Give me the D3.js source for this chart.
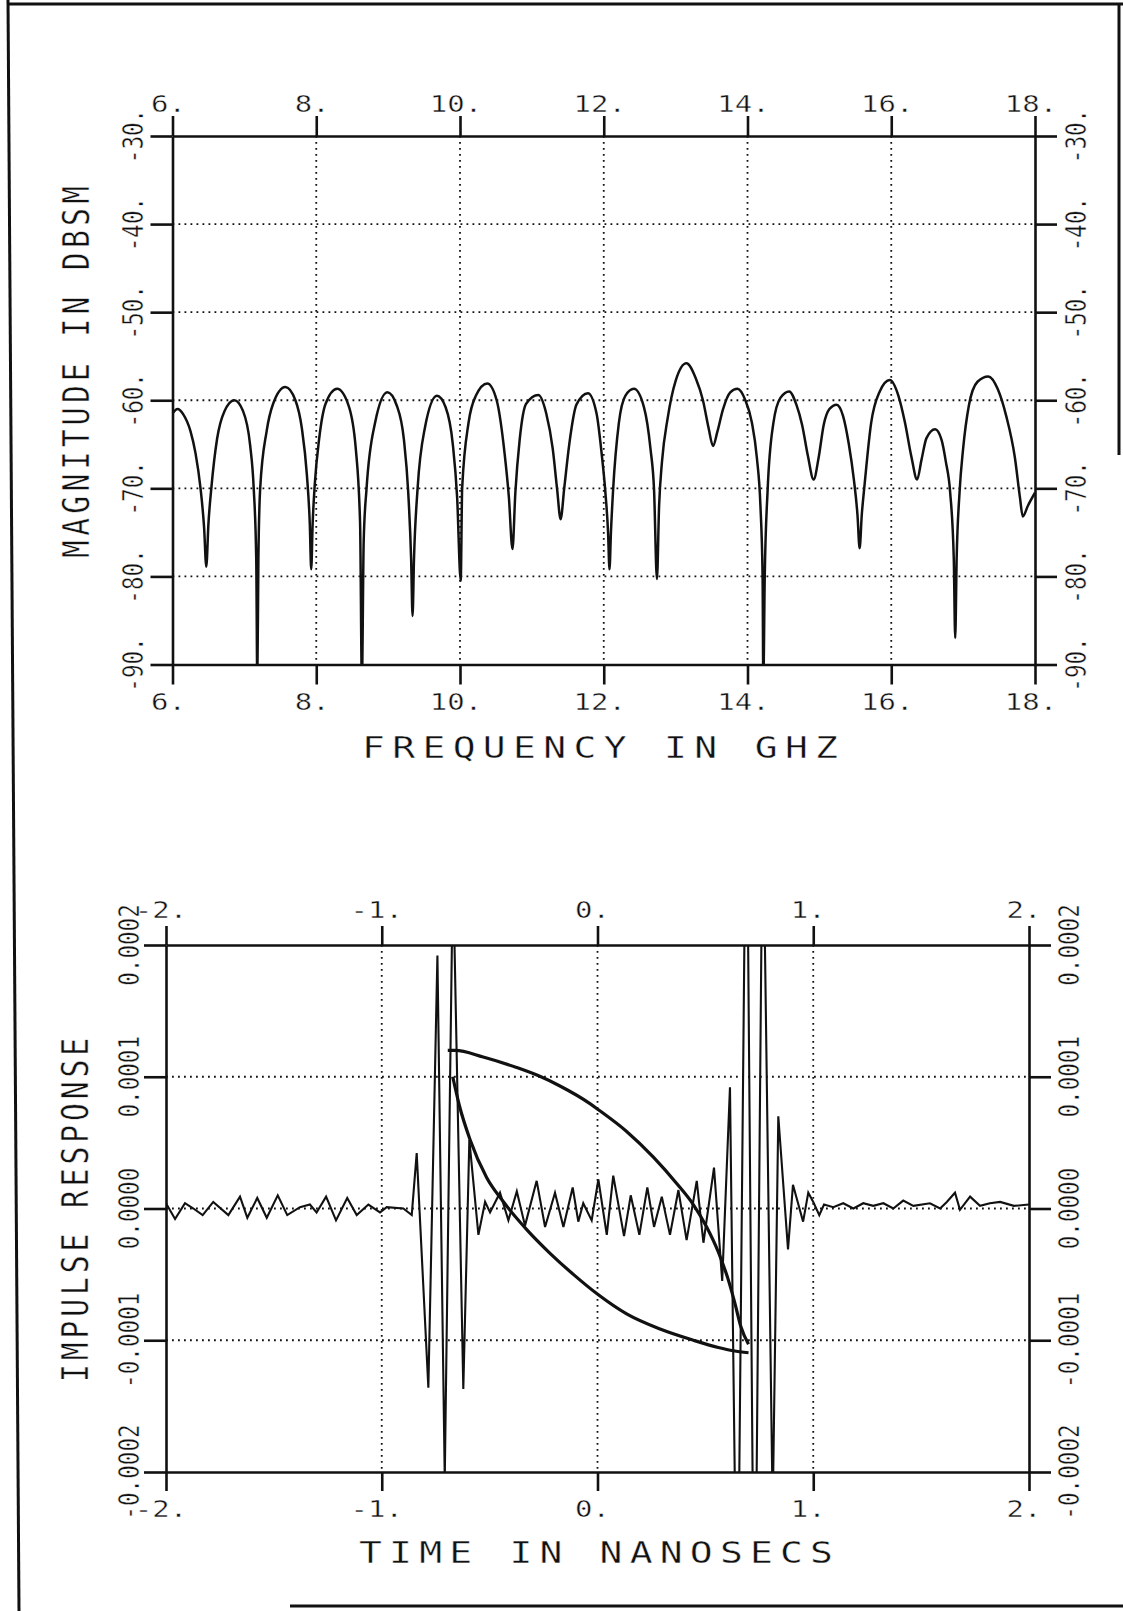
<!DOCTYPE html>
<html>
<head>
<meta charset="utf-8">
<script src="https://cdn.jsdelivr.net/npm/d3@7"></script>
<style>
  html, body { margin: 0; padding: 0; background: #fff; }
  svg { display: block; }
</style>
</head>
<body>
<div id="chart"></div>
<script>
// ---------------- DATA ----------------
// Top chart: magnitude (dBsm) vs frequency (GHz)
const freqGHz = [
  6.00, 6.07, 6.15, 6.25, 6.32, 6.39, 6.44, 6.47,
  6.50, 6.54, 6.62, 6.72, 6.86, 6.98, 7.08, 7.13, 7.165, 7.18,
  7.195, 7.22, 7.31, 7.40, 7.57, 7.71, 7.80, 7.87, 7.91, 7.93,
  7.95, 7.98, 8.04, 8.13, 8.29, 8.45, 8.55, 8.61, 8.635,
  8.66, 8.70, 8.82, 8.99, 9.12, 9.22, 9.28, 9.32, 9.34,
  9.36, 9.41, 9.51, 9.68, 9.80, 9.90, 9.96, 10.01,
  10.03, 10.12, 10.22, 10.38, 10.51, 10.62, 10.68, 10.73,
  10.77, 10.83, 10.92, 11.09, 11.20, 11.29, 11.35, 11.40,
  11.45, 11.52, 11.62, 11.78, 11.90, 11.97, 12.02, 12.06, 12.08,
  12.10, 12.13, 12.21, 12.30, 12.42, 12.56, 12.65, 12.70, 12.74,
  12.77, 12.81, 12.89, 13.00, 13.15, 13.28, 13.38, 13.46, 13.52,
  13.58, 13.66, 13.76, 13.86, 13.97, 14.06, 14.13, 14.18, 14.21, 14.22,
  14.24, 14.28, 14.36, 14.46, 14.58, 14.68, 14.76, 14.84, 14.92,
  14.99, 15.06, 15.14, 15.24, 15.33, 15.41, 15.48, 15.53, 15.56,
  15.59, 15.63, 15.72, 15.84, 15.98, 16.10, 16.19, 16.28, 16.36,
  16.42, 16.49, 16.61, 16.70, 16.76, 16.82, 16.87, 16.89,
  16.91, 16.95, 17.00, 17.08, 17.20, 17.35, 17.48, 17.60, 17.72, 17.79, 17.83, 17.90, 18.00
];
const magnitudeDbsm = [
  -61.5, -61.0, -61.6, -63.5, -66.0, -70.0, -74.5, -78.9,
  -74.0, -70.0, -64.4, -61.3, -60.0, -61.2, -65.1, -70.0, -78.0, -92.0,
  -78.0, -70.0, -63.5, -60.4, -58.5, -60.0, -63.2, -68.5, -74.0, -79.2,
  -74.0, -69.5, -64.4, -60.4, -58.7, -60.6, -65.5, -74.0, -92.0,
  -76.0, -70.0, -62.5, -59.1, -60.6, -64.5, -70.5, -78.0, -84.5,
  -78.0, -70.0, -63.2, -59.5, -60.8, -65.0, -71.0, -80.5,
  -70.0, -62.5, -59.5, -58.1, -60.0, -66.0, -71.0, -76.9,
  -70.5, -64.5, -60.4, -59.4, -61.5, -65.5, -70.0, -73.5,
  -70.0, -65.0, -60.5, -59.2, -61.5, -66.0, -70.2, -75.0, -79.2,
  -75.0, -70.2, -62.6, -59.5, -58.7, -60.8, -65.5, -70.2, -80.3,
  -72.0, -67.0, -62.0, -57.8, -55.8, -57.5, -60.0, -63.2, -65.2,
  -63.6, -61.0, -59.1, -58.7, -60.0, -62.5, -66.5, -72.0, -80.0, -92.0,
  -80.0, -70.2, -62.6, -59.7, -59.0, -60.5, -62.8, -66.3, -69.0,
  -66.5, -62.8, -61.0, -60.5, -61.8, -65.0, -69.0, -73.0, -76.8,
  -73.0, -69.5, -62.6, -59.0, -57.7, -59.5, -62.5, -66.4, -69.0,
  -66.8, -64.3, -63.3, -64.5, -67.0, -70.5, -78.0, -87.0,
  -78.0, -70.5, -65.5, -60.6, -57.9, -57.3, -58.7, -61.8, -66.5, -71.0, -73.2, -72.0, -70.5
];
const freqTicks = [6, 8, 10, 12, 14, 16, 18];
const freqTickLabels = ["6.", "8.", "10.", "12.", "14.", "16.", "18."];
const dbTicks = [-30, -40, -50, -60, -70, -80, -90];
const dbTickLabels = ["-30.", "-40.", "-50.", "-60.", "-70.", "-80.", "-90."];

// Bottom chart: impulse response vs time (ns); response values in units of 1e-4
const RESP_UNIT = 1e-4;
const traceTimeNs = [
  -2.000, -1.958, -1.912, -1.873, -1.830, -1.781, -1.711, -1.657, -1.623, -1.577,
  -1.533, -1.482, -1.438, -1.379, -1.333, -1.302, -1.258, -1.212, -1.160, -1.116,
  -1.062, -1.008, -0.977, -0.900, -0.861,
  -0.838, -0.784, -0.742, -0.708, -0.670, -0.622, -0.594, -0.552,
  -0.521, -0.498, -0.452, -0.413, -0.374, -0.336, -0.282, -0.243, -0.197, -0.158,
  -0.115, -0.089, -0.066, -0.027, 0.004, 0.043, 0.073, 0.123, 0.154, 0.194,
  0.231, 0.262, 0.298, 0.336, 0.375, 0.413, 0.460, 0.491, 0.540,
  0.578, 0.614, 0.648, 0.690, 0.728, 0.766, 0.812, 0.838, 0.883, 0.906,
  0.953, 0.977, 1.000, 1.028, 1.050,
  1.093, 1.139, 1.186, 1.232, 1.278, 1.325, 1.371, 1.417, 1.464, 1.541,
  1.588, 1.619, 1.657, 1.680, 1.727, 1.773, 1.819, 1.866, 1.930, 2.000
];
const traceResp = [
  0.04, -0.08, 0.04, 0.00, -0.05, 0.05, -0.05, 0.09, -0.07, 0.08,
  -0.07, 0.10, -0.05, 0.01, 0.03, -0.03, 0.09, -0.09, 0.08, -0.05,
  0.03, -0.03, 0.01, 0.00, -0.05,
  0.42, -1.36, 1.92, -2.05, 2.60, -1.37, 0.52, -0.20,
  0.05, -0.03, 0.12, -0.09, 0.13, -0.13, 0.21, -0.14, 0.12, -0.14,
  0.16, -0.10, 0.04, -0.09, 0.22, -0.20, 0.25, -0.21, 0.10, -0.20,
  0.16, -0.14, 0.09, -0.20, 0.14, -0.24, 0.21, -0.26, 0.31,
  -0.55, 0.92, -3.60, 3.60, -3.80, 3.20, -2.30, 0.70, -0.31, 0.18,
  -0.10, 0.12, 0.05, -0.05, 0.03,
  0.01, 0.04, 0.00, 0.04, 0.02, 0.04, 0.00, 0.06, 0.02, 0.04,
  0.00, 0.05, 0.12, -0.01, 0.09, 0.02, 0.04, 0.05, 0.02, 0.03
];
const upperArcTime = [-0.694, -0.660, -0.530, -0.375, -0.270, -0.174, -0.035, 0.004, 0.135, 0.259, 0.367, 0.444, 0.506, 0.560, 0.606, 0.637, 0.665, 0.700];
const upperArcResp = [1.20, 1.20, 1.15, 1.07, 1.005, 0.93, 0.796, 0.750, 0.585, 0.390, 0.190, 0.030, -0.140, -0.330, -0.540, -0.720, -0.900, -1.030];
const lowerArcTime = [-0.671, -0.640, -0.591, -0.514, -0.437, -0.328, -0.220, -0.112, 0.004, 0.135, 0.290, 0.444, 0.560, 0.630, 0.700];
const lowerArcResp = [1.00, 0.78, 0.524, 0.236, 0.053, -0.160, -0.340, -0.500, -0.655, -0.800, -0.915, -1.000, -1.055, -1.080, -1.095];
const timeTicks = [-2, -1, 0, 1, 2];
const timeTickLabels = ["-2.", "-1.", "0.", "1.", "2."];
const respTicks = [0.0002, 0.0001, 0, -0.0001, -0.0002];
const respTickLabels = ["0.0002", "0.0001", "0.0000", "-0.0001", "-0.0002"];

// ---------------- DRAWING ----------------
const W = 1123, H = 1611;
const K = 0.78;                       // vertical compression of the scanned plot
const FONT = "'DejaVu Sans Mono', 'Liberation Mono', monospace";
const INK = "#111";

const svg = d3.select("#chart").append("svg")
  .attr("width", W).attr("height", H)
  .attr("viewBox", `0 0 ${W} ${H}`);
svg.append("rect").attr("width", W).attr("height", H).attr("fill", "#fff");

// page frame
const frame = svg.append("g").attr("stroke", INK).attr("fill", "none").attr("stroke-width", 3);
frame.append("line").attr("x1", 8).attr("y1", 0).attr("x2", 19).attr("y2", H);
frame.append("line").attr("x1", 8).attr("y1", 4).attr("x2", W).attr("y2", 4);
frame.append("line").attr("x1", 1119).attr("y1", 4).attr("x2", 1119).attr("y2", 455);
frame.append("line").attr("x1", 290).attr("y1", 1606).attr("x2", W).attr("y2", 1606);

function label(g, x, y, str, o = {}) {
  const gg = g.append("g")
    .attr("transform", `translate(${x},${y}) scale(1,${K})${o.rot ? " rotate(-90)" : ""}`);
  const t = gg.append("text")
    .attr("text-anchor", o.anchor || "middle")
    .attr("font-family", FONT)
    .attr("font-size", o.size || 29)
    .attr("fill", INK)
    .attr("stroke", "#fff").attr("stroke-width", 0.5)
    .style("paint-order", "fill")
    .text(str);
  if (o.len) t.attr("textLength", o.len).attr("lengthAdjust", "spacing");
  return t;
}

function panel(cfg) {
  const { x, y, xTicks, xLabels, yTicks, yLabels } = cfg;
  const g = svg.append("g");
  const [x0, x1] = x.range();
  const [y0, y1] = y.range(); // y0 bottom, y1 top

  // dotted grid at interior ticks
  const grid = g.append("g").attr("stroke", INK).attr("stroke-width", 1.8)
    .attr("stroke-dasharray", "1.8,4.2").attr("fill", "none");
  grid.selectAll("line.v").data(xTicks.slice(1, -1)).join("line")
    .attr("x1", d => x(d)).attr("x2", d => x(d)).attr("y1", y1).attr("y2", y0);
  grid.selectAll("line.h").data(yTicks.slice(1, -1)).join("line")
    .attr("y1", d => y(d)).attr("y2", d => y(d)).attr("x1", x0).attr("x2", x1);

  // axes (frame + outward ticks)
  const styleAxis = a => {
    a.selectAll("path, line").attr("stroke", INK).attr("stroke-width", 2.6);
    a.selectAll("text").remove();
  };
  g.append("g").attr("transform", `translate(0,${y1})`)
    .call(d3.axisTop(x).tickValues(xTicks).tickSize(cfg.tickX).tickSizeOuter(0).tickFormat("")).call(styleAxis);
  g.append("g").attr("transform", `translate(0,${y0})`)
    .call(d3.axisBottom(x).tickValues(xTicks).tickSize(cfg.tickX).tickSizeOuter(0).tickFormat("")).call(styleAxis);
  g.append("g").attr("transform", `translate(${x0},0)`)
    .call(d3.axisLeft(y).tickValues(yTicks).tickSize(cfg.tickY).tickSizeOuter(0).tickFormat("")).call(styleAxis);
  g.append("g").attr("transform", `translate(${x1},0)`)
    .call(d3.axisRight(y).tickValues(yTicks).tickSize(cfg.tickY).tickSizeOuter(0).tickFormat("")).call(styleAxis);

  // tick labels
  xTicks.forEach((d, i) => {
    label(g, x(d) - cfg.lblDx, cfg.topBase, xLabels[i]);
    label(g, x(d) - cfg.lblDx, cfg.botBase, xLabels[i]);
  });
  yTicks.forEach((d, i) => {
    label(g, cfg.leftBase, y(d), yLabels[i], { rot: true });
    label(g, cfg.rightBase, y(d), yLabels[i], { rot: true });
  });

  // titles
  label(g, cfg.xTitle.x, cfg.xTitle.y, cfg.xTitle.text, { size: 38, len: cfg.xTitle.len });
  label(g, cfg.yTitle.x, cfg.yTitle.y, cfg.yTitle.text, { size: 38, len: cfg.yTitle.len / K, rot: true });

  // clip
  const id = "clip" + cfg.name;
  svg.append("clipPath").attr("id", id).append("rect")
    .attr("x", x0).attr("y", y1).attr("width", x1 - x0).attr("height", y0 - y1);
  return g.append("g").attr("clip-path", `url(#${id})`);
}

// ----- top: magnitude -----
const xTop = d3.scaleLinear().domain([6, 18]).range([172.5, 1035]);
const yTop = d3.scaleLinear().domain([-90, -30]).range([664.5, 136]);
const topPlot = panel({
  name: "top", x: xTop, y: yTop,
  xTicks: freqTicks, xLabels: freqTickLabels, yTicks: dbTicks, yLabels: dbTickLabels,
  tickX: 20, tickY: 22, lblDx: 4,
  topBase: 112, botBase: 710, leftBase: 143, rightBase: 1086,
  xTitle: { x: 600, y: 758, text: "FREQUENCY IN GHZ", len: 476 },
  yTitle: { x: 89, y: 372, text: "MAGNITUDE IN DBSM", len: 372 }
});
const magData = freqGHz.map((f, i) => ({ f, v: magnitudeDbsm[i] }));
topPlot.append("path").datum(magData)
  .attr("fill", "none").attr("stroke", INK).attr("stroke-width", 2.5)
  .attr("stroke-linejoin", "round")
  .attr("d", d3.line().x(d => xTop(d.f)).y(d => yTop(d.v)).curve(d3.curveMonotoneX));

// ----- bottom: impulse response -----
const xBot = d3.scaleLinear().domain([-2, 2]).range([166, 1029]);
const yBot = d3.scaleLinear().domain([-0.0002, 0.0002]).range([1472, 945]);
const botPlot = panel({
  name: "bot", x: xBot, y: yBot,
  xTicks: timeTicks, xLabels: timeTickLabels, yTicks: respTicks, yLabels: respTickLabels,
  tickX: 19, tickY: 22, lblDx: 5,
  topBase: 918, botBase: 1517, leftBase: 139, rightBase: 1079,
  xTitle: { x: 596, y: 1563, text: "TIME IN NANOSECS", len: 474 },
  yTitle: { x: 88, y: 1210, text: "IMPULSE RESPONSE", len: 344 }
});
const lineBot = d3.line().x(d => xBot(d.t)).y(d => yBot(d.v * RESP_UNIT));
const arcLine = d3.line().x(d => xBot(d.t)).y(d => yBot(d.v * RESP_UNIT)).curve(d3.curveMonotoneX);
botPlot.append("path")
  .datum(upperArcTime.map((t, i) => ({ t, v: upperArcResp[i] })))
  .attr("fill", "none").attr("stroke", INK).attr("stroke-width", 3.2).attr("d", arcLine);
botPlot.append("path")
  .datum(lowerArcTime.map((t, i) => ({ t, v: lowerArcResp[i] })))
  .attr("fill", "none").attr("stroke", INK).attr("stroke-width", 3.2).attr("d", arcLine);
botPlot.append("path")
  .datum(traceTimeNs.map((t, i) => ({ t, v: traceResp[i] })))
  .attr("fill", "none").attr("stroke", INK).attr("stroke-width", 2.1)
  .attr("stroke-linejoin", "miter").attr("d", lineBot);
</script>
</body>
</html>
